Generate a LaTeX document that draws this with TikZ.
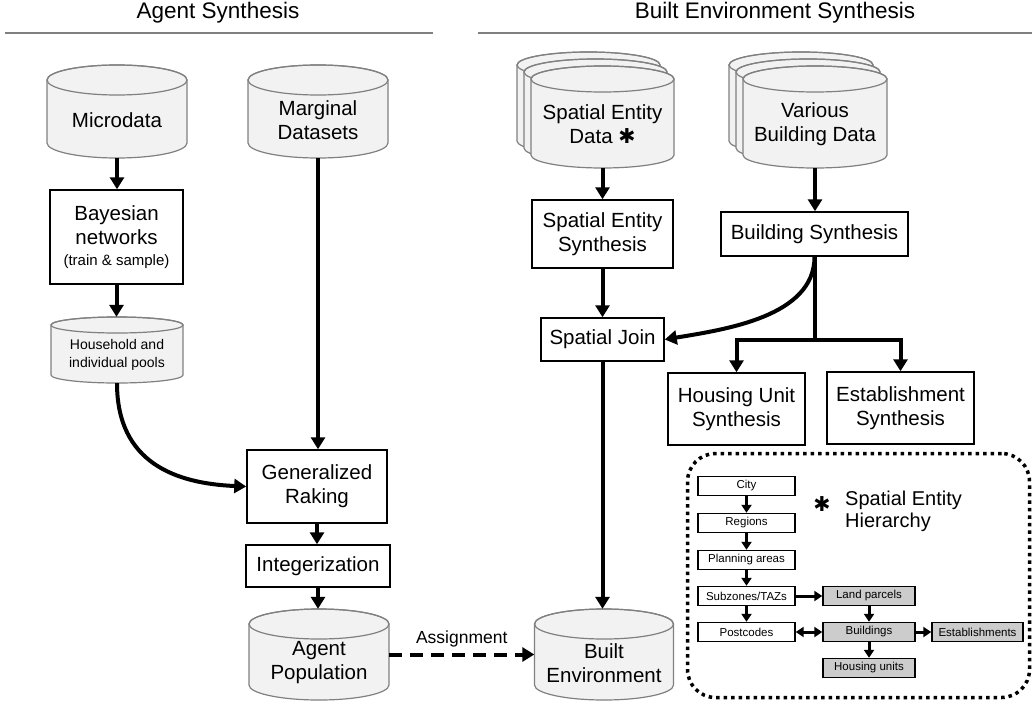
\documentclass[tikz,border=0pt]{standalone}
\usepackage{fontspec}
\setmainfont{Liberation Sans}
\newfontfamily\astfont{DejaVu Sans}
\usetikzlibrary{arrows.meta}

\definecolor{cylfill}{HTML}{F2F2F2}
\definecolor{cylgrey}{HTML}{808080}
\definecolor{hiergrey}{HTML}{CCCCCC}
\definecolor{hdgrey}{HTML}{808080}

% cylinder outline: centre x, top y, width, height, ellipse radius
\newcommand{\cylshape}[5]{%
  \filldraw[cylline] ({#1-#3/2},{#2+#5}) -- ({#1-#3/2},{#2+#4-#5})
    arc[start angle=180, end angle=0, x radius=#3/2, y radius=#5]
    -- ({#1+#3/2},{#2+#5})
    arc[start angle=0, end angle=-180, x radius=#3/2, y radius=#5] -- cycle;
  \draw[cylline, fill=none] (#1,{#2+#5}) ellipse[x radius=#3/2, y radius=#5];
}
% data store: [text options] name, centre x, top y, width, height, radius, text
\newcommand{\dbnode}[8][]{%
  \cylshape{#3}{#4}{#5}{#6}{#7}
  \node[minimum width=#5pt, minimum height=#6pt] (#2) at (#3,{#4+#6/2}) {};
  \node[#1] (#2txt) at (#3,{#4+#6/2+#7/2+1}) {#8};
}

\begin{document}
\begin{tikzpicture}[x=1pt, y=-1pt,
  every node/.style={font=\fontsize{20.5}{24}\selectfont, align=center, inner sep=0pt},
  box/.style={draw, fill=white, line width=1.5pt},
  cylline/.style={draw=cylgrey, fill=cylfill, line width=1.2pt},
  flow/.style={line width=4pt, -{Triangle[length=12pt,width=14pt]}},
  assign/.style={line width=4pt, dash pattern=on 13pt off 8pt, -{Triangle[length=12pt,width=14pt]}},
  hdline/.style={draw=hdgrey, line width=1.5pt},
  hbox/.style={draw, fill=white, line width=1.4pt, minimum width=97pt, minimum height=19pt, font=\fontsize{11.5}{13}\selectfont},
  hgrey/.style={hbox, fill=hiergrey, minimum width=92pt},
  hflow/.style={line width=3pt, -{Triangle[length=8pt,width=10pt]}},
  hframe/.style={draw, line width=3.5pt, dash pattern=on 3.5pt off 4pt, rounded corners=28pt}]

  \useasboundingbox (0,0) rectangle (1032,704);

  % headings
  \node[font=\fontsize{22.5}{26}\selectfont] (agenthd) at (218,13) {Agent Synthesis};
  \node[font=\fontsize{22.5}{26}\selectfont] (builthd) at (775,13) {Built Environment Synthesis};
  \draw[hdline] (5,33) -- (433,33);
  \draw[hdline] (478,33) -- (1032,33);

  % data stores
  \dbnode{micro}{117}{65}{140}{93}{15}{Microdata}
  \dbnode{marginal}{318}{65}{140}{93}{15}{Marginal\\Datasets}
  \dbnode[font=\fontsize{14}{18}\selectfont]{pools}{117}{317}{132}{66}{8}{Household and\\individual pools}
  \dbnode{agentpop}{319}{609}{140}{91}{15}{Agent\\Population}
  \dbnode{builtenv}{604}{609}{139}{91}{15}{Built\\Environment}
  \foreach \d in {14,7} {\cylshape{602.5-\d}{66-\d}{143}{102}{13}}
  \dbnode{sedata}{602.5}{66}{143}{102}{13}{Spatial Entity\\Data {\astfont ✱}}
  \foreach \d in {14,7} {\cylshape{815-\d}{66-\d}{144}{102}{13}}
  \dbnode{vbdata}{815}{66}{144}{102}{13}{Various\\Building Data}

  % processes
  \node[box, minimum width=133pt, minimum height=94pt] (bayes) at (116.5,237)
    {Bayesian\\networks\\[-3pt]{\fontsize{15}{18}\selectfont(train \& sample)}};
  \node[box, minimum width=140pt, minimum height=73pt] (genrak) at (317,486.5) {Generalized\\Raking};
  \node[box, minimum width=144pt, minimum height=42pt] (integ) at (318,566) {Integerization};
  \node[box, minimum width=141pt, minimum height=68pt] (sesyn) at (602.5,234) {Spatial Entity\\Synthesis};
  \node[box, minimum width=123pt, minimum height=43pt] (sjoin) at (602.5,339.5) {Spatial Join};
  \node[box, minimum width=187pt, minimum height=44pt] (bsyn) at (814.5,234) {Building Synthesis};
  \node[box, minimum width=137pt, minimum height=72pt] (husyn) at (736.5,409) {Housing Unit\\Synthesis};
  \node[box, minimum width=147pt, minimum height=72pt] (estsyn) at (900.5,408) {Establishment\\Synthesis};

  \foreach \from/\to in {micro/bayes,bayes/pools,marginal/genrak,genrak/integ,integ/agentpop,
                         sedata/sesyn,sesyn/sjoin,sjoin/builtenv,vbdata/bsyn}
    \draw[flow] (\from.south) -- (\from.south |- \to.north);

  \draw[flow] (pools.south) .. controls +(0,80) and +(-70,-3) .. (genrak.west);
  \draw[flow] (bsyn.south) .. controls +(0,60) and +(60,-10) .. (sjoin.east);
  \coordinate (split) at (814.5,340);
  \draw[line width=4pt] (bsyn.south) -- (split);
  \draw[flow] (split) -| (husyn.north);
  \draw[flow] (split) -| (estsyn.north);

  \draw[assign] (agentpop.east) -- node[above=5pt, font=\fontsize{17.5}{20}\selectfont] (assignlbl) {Assignment} (builtenv.west);

  % spatial entity hierarchy
  \node[hframe, minimum width=342pt, minimum height=244pt] (hierbox) at (858.5,575.5) {};
  \node[hbox] (city) at (746.5,486) {City};
  \node[hbox] (regions) at (746.5,523) {Regions};
  \node[hbox] (planning) at (746.5,560) {Planning areas};
  \node[hbox] (subzones) at (746.5,596) {Subzones/TAZs};
  \node[hbox] (postcodes) at (746.5,632) {Postcodes};
  \node[hgrey] (parcels) at (869,596) {Land parcels};
  \node[hgrey] (buildings) at (869,632) {Buildings};
  \node[hgrey] (housing) at (869,668) {Housing units};
  \node[hgrey, minimum width=91pt] (estab) at (977.5,632) {Establishments};

  \foreach \from/\to in {city/regions,regions/planning,planning/subzones,subzones/postcodes,
                         parcels/buildings,buildings/housing}
    \draw[hflow] (\from.south) -- (\to.north);
  \draw[hflow] (subzones) -- (parcels);
  \draw[hflow] (buildings) -- (estab);
  \draw[hflow, {Triangle[length=8pt,width=10pt]}-{Triangle[length=8pt,width=10pt]}] (postcodes) -- (buildings);

  \node[font=\fontsize{20}{22}\selectfont, align=left, anchor=north west] (hiertxt) at (845,491) {Spatial Entity\\Hierarchy};
  \node (hierast) at (822,504) {\astfont ✱};
\end{tikzpicture}
\end{document}
